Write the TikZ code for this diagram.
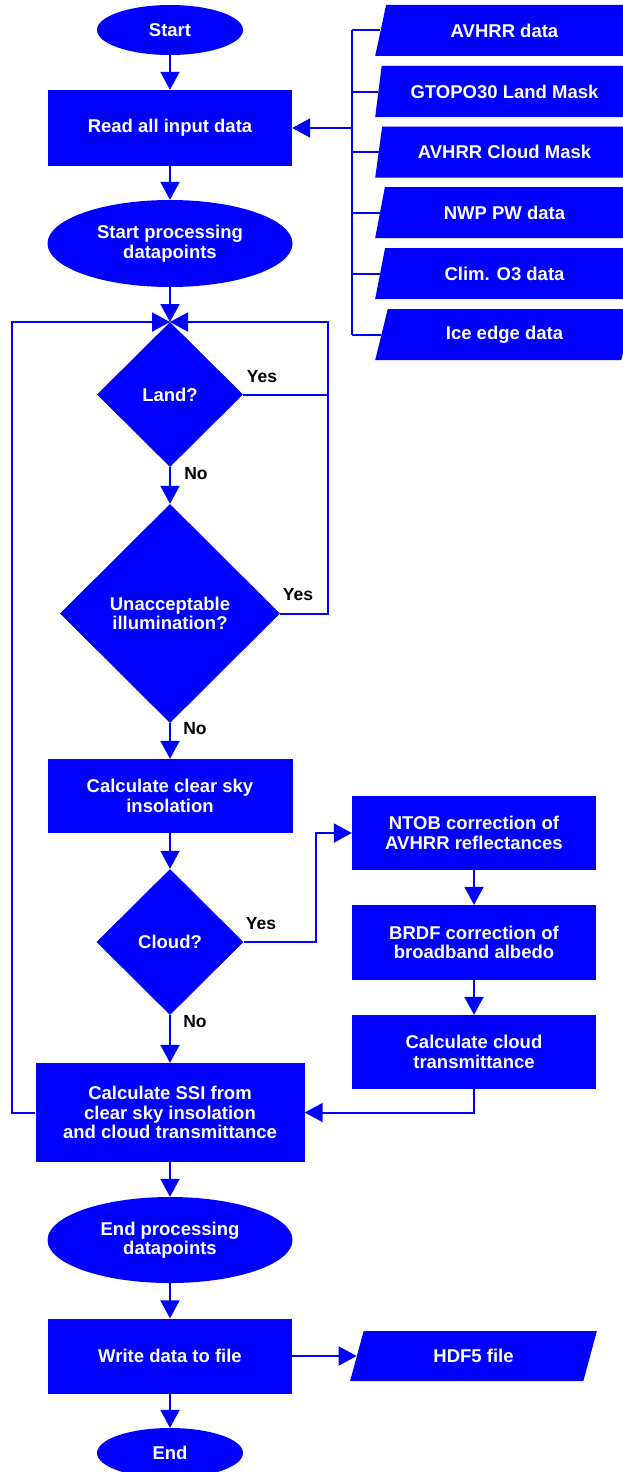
\documentclass[tikz,border=0pt]{standalone}
\usepackage{fontspec}
\setmainfont{Liberation Sans}
\usetikzlibrary{shapes.geometric,arrows.meta}
\definecolor{fb}{RGB}{0,0,255}
\begin{document}
\begin{tikzpicture}[x=1pt,y=-1pt,
  every node/.style={font=\fontsize{18.5}{19.5}\selectfont\bfseries, text=white, align=center, inner sep=0pt},
  box/.style={rectangle, fill=fb},
  term/.style={ellipse, fill=fb},
  dec/.style={diamond, fill=fb, aspect=1},
  io/.style={trapezium, trapezium left angle=70, trapezium right angle=110, trapezium stretches=true, fill=fb},
  conn/.style={draw=fb, line width=2pt},
  arr/.style={conn, -{Triangle[length=18pt,width=19pt]}},
  lbl/.style={text=black, font=\fontsize{17.5}{19}\selectfont\bfseries}
]
\useasboundingbox (0,0) rectangle (623,1472);

% main column
\node[term, minimum width=146pt, minimum height=50pt] (start) at (170,30) {Start};
\node[box, minimum width=244pt, minimum height=76pt] (read) at (170,128) {Read all input data};
\node[term, minimum width=245pt, minimum height=87pt] (sproc) at (170,243.5) {Start processing\\datapoints};
\coordinate (merge) at (170,322);
\node[dec, minimum width=146pt, minimum height=145pt] (land) at (170,394.5) {Land?};
\node[dec, minimum width=220pt, minimum height=219pt] (unacc) at (170,613.5) {Unacceptable\\illumination?};
\node[box, minimum width=245pt, minimum height=74pt] (clear) at (170,796) {Calculate clear sky\\insolation};
\node[dec, minimum width=147pt, minimum height=146pt] (cloud) at (170,942) {Cloud?};
\node[box, minimum width=269pt, minimum height=99pt] (ssi) at (170,1112.5) {Calculate SSI from\\clear sky insolation\\and cloud transmittance};
\node[term, minimum width=245pt, minimum height=86pt] (eproc) at (170,1240) {End processing\\datapoints};
\node[box, minimum width=244pt, minimum height=75pt] (write) at (170,1356) {Write data to file};
\node[term, minimum width=146pt, minimum height=50pt] (end) at (170,1453) {End};

% right column
\node[box, minimum width=244pt, minimum height=74pt] (ntob) at (474,833) {NTOB correction of\\AVHRR reflectances};
\node[box, minimum width=244pt, minimum height=75pt] (brdf) at (474,942.5) {BRDF correction of\\broadband albedo};
\node[box, minimum width=244pt, minimum height=74pt] (ctrans) at (474,1052) {Calculate cloud\\transmittance};

% data inputs
\node[io, minimum width=259pt, minimum height=51pt] (d1) at (504.5,30.5) {AVHRR data};
\node[io, minimum width=259pt, minimum height=51pt] (d2) at (504.5,91.5) {GTOPO30 Land Mask};
\node[io, minimum width=259pt, minimum height=51pt] (d3) at (504.5,152) {AVHRR Cloud Mask};
\node[io, minimum width=259pt, minimum height=51pt] (d4) at (504.5,212.5) {NWP PW data};
\node[io, minimum width=259pt, minimum height=51pt] (d5) at (504.5,273.5) {Clim. O3 data};
\node[io, minimum width=259pt, minimum height=51pt] (d6) at (504.5,334.5) {Ice edge data};
\node[io, minimum width=247pt, minimum height=50pt] (hdf) at (473.5,1356) {HDF5 file};

% connectors
\draw[arr] (start) -- (read);
\draw[arr] (read) -- (sproc);
\draw[arr] (sproc) -- (merge);
\coordinate (rl) at (328,322);
\coordinate (ll) at (12,322);
\draw[conn] (unacc.east) -| (rl);
\draw[arr] (land.east) -| (rl) -- (merge);
\draw[arr] (ssi.west) -| (ll) -- (merge);
\draw[arr] (land) -- (unacc);
\draw[arr] (unacc) -- (clear);
\draw[arr] (clear) -- (cloud);
\draw[arr] (cloud) -- (ssi);
\coordinate (cy) at (316,942);
\draw[arr] (cloud.east) -- (cy) |- (ntob.west);
\draw[arr] (ntob) -- (brdf);
\draw[arr] (brdf) -- (ctrans);
\draw[arr] (ctrans.south) |- (ssi.east);
\draw[arr] (ssi) -- (eproc);
\draw[arr] (eproc) -- (write);
\draw[arr] (write) -- (end);
\draw[arr] (write.east) -- (hdf.left side);

% bus
\coordinate (bt) at (352,30.5);
\coordinate (bb) at (352,334.5);
\draw[conn] (bt) -- (bb);
\foreach \d in {d1,d2,d3,d4,d5,d6} \draw[conn] (\d.left side -| bt) -- (\d.left side);
\draw[arr] (read.east -| bt) -- (read.east);

% labels
\node[lbl] (y1) at (262,377) {Yes};
\node[lbl] (n1) at (196,474) {No};
\node[lbl] (y2) at (298,595) {Yes};
\node[lbl] (n2) at (195,729) {No};
\node[lbl] (y3) at (261,924) {Yes};
\node[lbl] (n3) at (195,1022) {No};
\end{tikzpicture}
\end{document}
